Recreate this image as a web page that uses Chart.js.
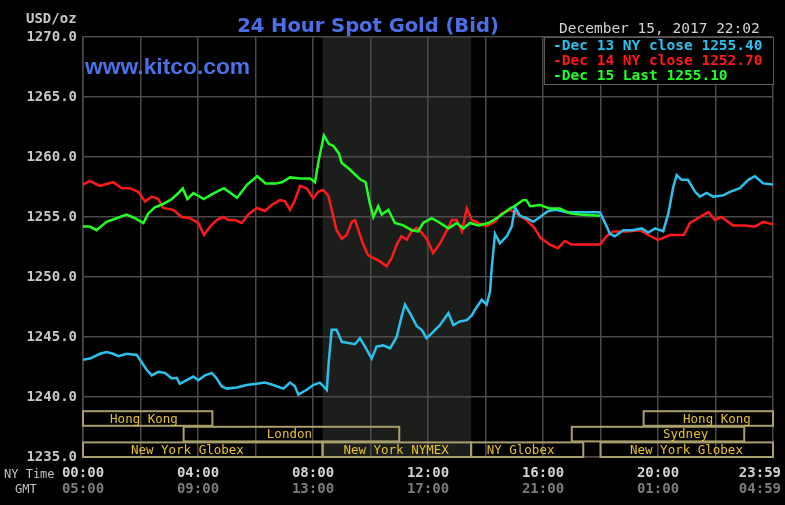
<!DOCTYPE html>
<html><head><meta charset="utf-8">
<script src="https://cdn.jsdelivr.net/npm/chart.js@4/dist/chart.umd.min.js"></script>
<style>
html,body{margin:0;padding:0;background:#000;}
#wrap{position:relative;width:785px;height:505px;background:#000;overflow:hidden;}
#c{position:absolute;left:0;top:0;}
.t{position:absolute;white-space:pre;line-height:1;z-index:2;}
.mono{font-family:"DejaVu Sans Mono",monospace;}
#title{left:168px;width:400px;text-align:center;top:13.5px;font:bold 19.5px "DejaVu Sans",sans-serif;color:#4d6fe6;}
#kitco{left:85px;top:52.5px;font:bold 22.8px "Liberation Sans",Arial,sans-serif;color:#4a72e8;}
#date{left:559px;top:20.5px;font-size:14.5px;color:#d4d4d4;}
#usd{left:26px;top:10.5px;font-size:14px;font-weight:bold;color:#c8c8c8;}
#nyt{left:4px;top:468px;font-size:12px;color:#c0c0c0;}
#gmt{left:15px;top:483px;font-size:12px;color:#c0c0c0;}
#leg{position:absolute;left:544px;top:37px;width:230px;height:48px;box-sizing:border-box;border:1.5px solid #5a5a5a;background:#000;z-index:1;}
.lr{left:553px;font-size:14.5px;font-weight:bold;}
</style></head><body>
<div id="wrap">
<canvas id="c" width="785" height="505"></canvas>
<div class="t" id="title">24 Hour Spot Gold (Bid)</div>
<div class="t" id="kitco">www.kitco.com</div>
<div class="t mono" id="date">December 15, 2017 22:02</div>
<div class="t mono" id="usd">USD/oz</div>
<div class="t mono" id="nyt">NY Time</div>
<div class="t mono" id="gmt">GMT</div>
<div id="leg"></div>
<div class="t mono lr" style="top:38px;color:#2cc0ec">-Dec 13 NY close 1255.40</div>
<div class="t mono lr" style="top:53px;color:#ff1a1a">-Dec 14 NY close 1252.70</div>
<div class="t mono lr" style="top:68px;color:#22ff22">-Dec 15 Last 1255.10</div>
</div>
<script>
// ---- data (NY time in hours, price USD/oz) ----
const hours13 = [0,0.24,0.59,0.82,1.05,1.23,1.52,1.87,2.04,2.22,2.39,2.62,2.85,3.09,3.26,3.37,3.61,3.84,4.01,4.24,4.48,4.65,4.82,5.0,5.35,5.69,6.04,6.33,6.62,6.97,7.2,7.37,7.49,7.78,8.01,8.24,8.48,8.55,8.65,8.82,9.0,9.23,9.46,9.63,9.81,10.04,10.21,10.45,10.68,10.91,11.08,11.2,11.37,11.61,11.78,11.95,12.13,12.42,12.71,12.88,13.11,13.35,13.52,13.63,13.87,14.04,14.16,14.21,14.33,14.5,14.74,14.91,15.03,15.2,15.43,15.66,15.9,16.18,16.45,16.82,17.98,18.16,18.33,18.5,18.79,19.1,19.43,19.66,19.9,20.18,20.36,20.53,20.65,20.82,21.04,21.29,21.46,21.69,21.92,22.27,22.5,22.85,23.14,23.37,23.66,24];
const gold13 = [1243.1,1243.2,1243.6,1243.75,1243.6,1243.4,1243.6,1243.5,1242.9,1242.25,1241.8,1242.1,1242.0,1241.55,1241.6,1241.1,1241.4,1241.7,1241.4,1241.8,1242.0,1241.55,1240.9,1240.7,1240.8,1241.0,1241.1,1241.2,1241.0,1240.7,1241.2,1240.9,1240.2,1240.6,1241.0,1241.2,1240.6,1243.0,1245.6,1245.6,1244.6,1244.5,1244.4,1244.9,1244.2,1243.2,1244.2,1244.3,1244.05,1245.0,1246.7,1247.7,1247.0,1245.9,1245.6,1244.9,1245.3,1246.0,1247.0,1246.0,1246.3,1246.4,1246.8,1247.25,1248.1,1247.7,1248.8,1250.6,1253.6,1252.8,1253.4,1254.2,1255.8,1255.1,1254.9,1254.6,1255.0,1255.5,1255.6,1255.4,1255.4,1254.5,1253.6,1253.4,1253.9,1253.9,1254.05,1253.7,1254.05,1253.8,1255.3,1257.5,1258.5,1258.1,1258.1,1257.1,1256.7,1257.0,1256.7,1256.8,1257.1,1257.4,1258.1,1258.4,1257.8,1257.7];

const hours14 = [0,0.24,0.59,1.05,1.35,1.63,1.92,2.16,2.39,2.62,2.79,3.14,3.43,3.72,4.01,4.21,4.42,4.65,4.88,5.06,5.29,5.52,5.75,6.04,6.33,6.56,6.85,7.03,7.2,7.37,7.55,7.78,8.01,8.18,8.35,8.53,8.65,8.82,9.0,9.17,9.35,9.46,9.58,9.75,9.92,10.1,10.33,10.56,10.74,10.91,11.08,11.26,11.43,11.61,11.78,11.95,12.18,12.42,12.66,12.83,13.0,13.18,13.35,13.52,13.75,14.04,14.33,14.56,14.85,15.13,15.42,15.7,15.9,16.24,16.52,16.76,16.99,17.98,18.21,18.44,18.9,19.37,19.66,20.0,20.42,20.9,21.11,21.46,21.75,21.98,22.21,22.61,23.0,23.37,23.66,24];
const gold14 = [1257.7,1258.0,1257.6,1257.9,1257.4,1257.4,1257.1,1256.3,1256.7,1256.5,1255.75,1255.6,1255.0,1254.9,1254.5,1253.5,1254.2,1254.75,1255.0,1254.75,1254.75,1254.5,1255.2,1255.75,1255.5,1256.0,1256.4,1256.3,1255.6,1256.4,1257.6,1257.4,1256.55,1257.1,1257.25,1256.8,1255.6,1253.9,1253.2,1253.5,1254.6,1254.75,1253.9,1252.7,1251.8,1251.6,1251.3,1250.9,1251.6,1252.7,1253.4,1253.1,1253.8,1254.1,1253.7,1253.2,1252.0,1252.8,1253.9,1254.75,1254.75,1253.8,1255.7,1254.75,1254.5,1254.25,1254.6,1255.3,1255.6,1255.2,1254.75,1254.1,1253.3,1252.7,1252.4,1253.0,1252.7,1252.7,1253.4,1253.8,1253.8,1253.9,1253.5,1253.1,1253.5,1253.5,1254.5,1255.0,1255.4,1254.75,1255.0,1254.3,1254.3,1254.2,1254.6,1254.4];

const hours15 = [0,0.24,0.47,0.82,1.17,1.51,1.8,2.1,2.27,2.5,2.8,3.09,3.32,3.47,3.63,3.84,4.2,4.49,4.9,5.36,5.71,6.06,6.35,6.7,6.92,7.2,7.55,7.9,8.07,8.2,8.38,8.55,8.72,8.9,9.0,9.24,9.48,9.66,9.83,9.98,10.1,10.27,10.39,10.62,10.85,11.14,11.43,11.66,11.83,12.13,12.42,12.71,13.0,13.23,13.46,13.75,14.1,14.39,14.62,14.85,15.07,15.3,15.42,15.55,15.9,16.24,16.59,16.94,17.28,17.98];
const gold15 = [1254.2,1254.2,1253.9,1254.6,1254.9,1255.2,1254.9,1254.5,1255.3,1255.8,1256.1,1256.5,1257.0,1257.4,1256.5,1257.0,1256.5,1256.9,1257.4,1256.6,1257.7,1258.4,1257.8,1257.8,1257.9,1258.3,1258.2,1258.2,1257.9,1259.75,1261.8,1261.1,1260.9,1260.3,1259.5,1259.05,1258.5,1258.1,1257.9,1256.1,1255.0,1255.9,1255.2,1255.6,1254.5,1254.3,1253.9,1253.8,1254.5,1254.9,1254.5,1254.05,1254.5,1254.05,1254.5,1254.3,1254.5,1254.9,1255.3,1255.7,1256.0,1256.4,1256.4,1255.9,1256.0,1255.7,1255.7,1255.3,1255.2,1255.1];

// x tick labels
const tickHours = [0,4,8,12,16,20,24];
const nyTickLabels = ['00:00','04:00','08:00','12:00','16:00','20:00','23:59'];
const gmtTickLabels = ['05:00','09:00','13:00','17:00','21:00','01:00','04:59'];

// trading sessions (row 0 = top row)
const sessionNames = ['Hong Kong','London','New York Globex','New York NYMEX','NY Globex','Sydney','Hong Kong','New York Globex'];
const sessionStart = [0,3.5,0,8.333,13.5,17,19.5,18];
const sessionEnd   = [4.5,11,8.333,13.5,17.4,23,24,24];
const sessionRow   = [0,1,2,2,2,1,0,2];
const sessionLabelAt = [2.12,7.18,3.63,10.89,15.22,20.96,22.05,20.99];
const shadedSession = 3; // New York NYMEX

const GRID = '#4a4a4a';
const MONO = '"DejaVu Sans Mono", monospace';

const sessionPlugin = {
  id: 'sessions',
  beforeDraw(chart) {
    const {ctx, chartArea: a, scales: {x}} = chart;
    const x0 = x.getPixelForValue(sessionStart[shadedSession]);
    const x1 = x.getPixelForValue(sessionEnd[shadedSession]);
    ctx.save();
    ctx.fillStyle = '#1c1e1c';
    ctx.fillRect(x0, a.top, x1 - x0, a.bottom - a.top);
    ctx.restore();
  },
  beforeDatasetsDraw(chart) {
    const {ctx, chartArea: a, scales: {x}} = chart;
    const rowH = 15.6;
    ctx.save();
    ctx.strokeStyle = '#a89f6c';
    ctx.lineWidth = 2;
    ctx.font = '12.5px ' + MONO;
    ctx.fillStyle = '#e8c22a';
    ctx.textAlign = 'center';
    ctx.textBaseline = 'middle';
    for (let i = 0; i < sessionNames.length; i++) {
      const xs = x.getPixelForValue(sessionStart[i]);
      const xe = x.getPixelForValue(sessionEnd[i]);
      const yb = a.bottom - (2 - sessionRow[i]) * rowH;
      const yt = yb - rowH + 1;
      ctx.strokeRect(xs, yt, xe - xs, yb - yt);
      ctx.fillText(sessionNames[i], x.getPixelForValue(sessionLabelAt[i]), (yt + yb) / 2 + 1);
    }
    ctx.restore();
  },
  afterDraw(chart) {
    const {ctx, scales: {x}} = chart;
    ctx.save();
    ctx.font = 'bold 14px ' + MONO;
    ctx.textBaseline = 'alphabetic';
    for (let i = 0; i < tickHours.length; i++) {
      let px = x.getPixelForValue(tickHours[i]);
      const w = ctx.measureText(nyTickLabels[i]).width;
      px = Math.min(px, chart.width - 4 - w / 2);
      ctx.textAlign = 'center';
      ctx.fillStyle = '#d2d2d2';
      ctx.fillText(nyTickLabels[i], px, 477);
      ctx.fillStyle = '#7c7c7c';
      ctx.fillText(gmtTickLabels[i], px, 493);
    }
    ctx.restore();
  }
};

const toPts = (hs, vs) => hs.map((h, i) => ({x: h, y: vs[i]}));

new Chart(document.getElementById('c'), {
  type: 'line',
  data: {
    datasets: [
      {label: 'Dec 15 Last 1255.10', data: toPts(hours15, gold15), borderColor: '#22ff22', order: 0},
      {label: 'Dec 13 NY close 1255.40', data: toPts(hours13, gold13), borderColor: '#2cc0ec', order: 1},
      {label: 'Dec 14 NY close 1252.70', data: toPts(hours14, gold14), borderColor: '#ff1a1a', order: 2}
    ]
  },
  options: {
    responsive: false,
    animation: false,
    devicePixelRatio: 1,
    layout: {padding: {left: 0, right: 12, top: 37, bottom: 0}},
    plugins: {legend: {display: false}, tooltip: {enabled: false}},
    elements: {point: {radius: 0}, line: {borderWidth: 2.5, tension: 0}},
    scales: {
      x: {
        type: 'linear', min: 0, max: 24,
        ticks: {display: false, stepSize: 2},
        grid: {color: GRID, lineWidth: 1.5, drawTicks: false},
        border: {color: GRID, width: 1.5},
        afterFit(s) { s.height = 48; s.paddingLeft = 0; s.paddingRight = 0; }
      },
      y: {
        min: 1235, max: 1270,
        ticks: {stepSize: 5, callback: v => Number(v).toFixed(1), color: '#c8c8c8',
                font: {family: 'DejaVu Sans Mono', size: 14, weight: 'bold'}, padding: 6},
        grid: {color: GRID, lineWidth: 1.5, drawTicks: false},
        border: {color: GRID, width: 1.5},
        afterFit(s) { s.width = 83; s.paddingTop = 0; s.paddingBottom = 0; }
      }
    }
  },
  plugins: [sessionPlugin]
});
</script>
</body></html>
